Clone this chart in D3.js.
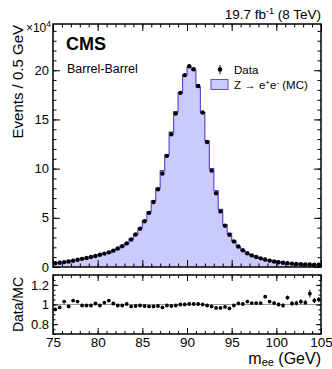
<!DOCTYPE html>
<html>
<head>
<meta charset="utf-8">
<script src="https://cdn.jsdelivr.net/npm/d3@7"></script>
<style>
  body { margin: 0; background: #fff; }
  text { font-family: "Liberation Sans", Arial, sans-serif; }
</style>
</head>
<body>
<div id="chart"></div>
<script>
// m_ee binning: 0.5 GeV bins from 75 to 105 GeV
const binStart = 75;
const binWidth = 0.5;

// events per bin, in units of 10^4
const dataEvents = [
    0.38, 0.43, 0.50, 0.56, 0.64, 0.73, 0.83, 0.92, 1.02, 1.12,
    1.24, 1.36, 1.49, 1.66, 1.88, 2.12, 2.40, 2.80, 3.30, 3.90,
    4.65, 5.50, 6.60, 7.90, 9.50, 11.3, 13.5, 15.6, 17.7, 19.5,
    20.4, 20.1, 18.4, 15.7, 12.7, 9.80, 7.50, 5.65, 4.20, 3.28,
    2.60, 2.08, 1.70, 1.40, 1.18, 1.01, 0.88, 0.76, 0.65, 0.56,
    0.49, 0.43, 0.38, 0.34, 0.31, 0.29, 0.27, 0.25, 0.24, 0.23
];
const mcEvents = [
    0.40, 0.44, 0.49, 0.57, 0.62, 0.71, 0.84, 0.93, 1.03, 1.11,
    1.25, 1.33, 1.43, 1.64, 1.90, 2.14, 2.39, 2.86, 3.35, 3.94,
    4.72, 5.61, 6.73, 8.02, 9.79, 11.4, 13.7, 15.8, 17.7, 19.5,
    20.3, 20.0, 18.3, 15.7, 12.8, 10.0, 7.77, 5.85, 4.31, 3.42,
    2.63, 2.06, 1.69, 1.36, 1.16, 1.00, 0.87, 0.70, 0.63, 0.55,
    0.49, 0.43, 0.36, 0.34, 0.31, 0.28, 0.27, 0.23, 0.23, 0.22
];
const ratio = [
    0.95, 0.97, 1.03, 0.98, 1.04, 1.03, 0.99, 0.99, 0.99, 1.01,
    0.99, 1.02, 1.04, 1.01, 0.99, 0.99, 1.005, 0.98, 0.985, 0.99,
    0.985, 0.98, 0.98, 0.985, 0.97, 0.99, 0.985, 0.99, 1.0, 1.0,
    1.005, 1.005, 1.005, 1.0, 0.99, 0.98, 0.965, 0.965, 0.975, 0.96,
    0.99, 1.01, 1.005, 1.03, 1.015, 1.015, 1.015, 1.08, 1.03, 1.015,
    1.0, 0.99, 1.07, 1.01, 1.015, 1.03, 1.02, 1.11, 1.04, 1.05
];
const ratioErr = [
    0.016, 0.015, 0.014, 0.013, 0.012, 0.011, 0.010, 0.010, 0.009, 0.009,
    0.008, 0.008, 0.008, 0.007, 0.007, 0.006, 0.006, 0.005, 0.005, 0.005,
    0.004, 0.004, 0.004, 0.003, 0.003, 0.003, 0.003, 0.003, 0.003, 0.003,
    0.003, 0.003, 0.003, 0.003, 0.003, 0.003, 0.004, 0.004, 0.005, 0.005,
    0.006, 0.007, 0.008, 0.009, 0.010, 0.011, 0.012, 0.014, 0.015, 0.016,
    0.018, 0.019, 0.020, 0.022, 0.023, 0.024, 0.025, 0.040, 0.026, 0.027
];

const xTicks = [75, 80, 85, 90, 95, 100, 105];
const yTicks = [0, 5, 10, 15, 20];
const ratioTicks = [0.8, 1, 1.2];

function main() {
    let W = 332, H = 369;
    let left = 53, right = 321;
    let mainTop = 24, mainBottom = 267;
    let ratioTop = 275, ratioBottom = 334;

    let fillColor = "#cbcbfb";
    let lineColor = "#5b4fd2";

    let svg = d3.select("#chart").append("svg")
        .attr("width", W)
        .attr("height", H);

    let x = d3.scaleLinear().domain([75, 105]).range([left, right]);
    let y = d3.scaleLinear().domain([0, 24.7]).range([mainBottom, mainTop]);
    let yr = d3.scaleLinear().domain([0.7, 1.3]).range([ratioBottom, ratioTop]);

    let bins = dataEvents.map(function(d, i) {
        let lo = binStart + i * binWidth;
        return {lo: lo, mid: lo + binWidth / 2, data: d, mc: mcEvents[i], r: ratio[i], re: ratioErr[i]};
    });
    let steps = bins.map(b => [b.lo, b.mc]);
    steps.push([105, bins[bins.length - 1].mc]);

    // MC histogram
    svg.append("path")
        .datum(steps)
        .attr("fill", fillColor)
        .attr("d", d3.area()
            .curve(d3.curveStepAfter)
            .x(d => x(d[0]))
            .y0(y(0))
            .y1(d => y(d[1])));
    svg.append("path")
        .datum(steps)
        .attr("fill", "none")
        .attr("stroke", lineColor)
        .attr("stroke-width", 1.2)
        .attr("d", d3.line()
            .curve(d3.curveStepAfter)
            .x(d => x(d[0]))
            .y(d => y(d[1])));

    // data points
    svg.append("g")
        .selectAll("circle")
        .data(bins)
        .enter()
        .append("circle")
        .attr("cx", d => x(d.mid))
        .attr("cy", d => y(d.data))
        .attr("r", 2.2)
        .attr("fill", "black");

    // ratio panel
    svg.append("line")
        .attr("x1", left).attr("x2", right)
        .attr("y1", yr(1)).attr("y2", yr(1))
        .attr("stroke", "#9a9a9a")
        .attr("stroke-width", 1.2);

    let rg = svg.append("g");
    rg.selectAll("line")
        .data(bins)
        .enter()
        .append("line")
        .attr("x1", d => x(d.mid)).attr("x2", d => x(d.mid))
        .attr("y1", d => yr(d.r - d.re)).attr("y2", d => yr(d.r + d.re))
        .attr("stroke", "black")
        .attr("stroke-width", 1);
    rg.selectAll("circle")
        .data(bins)
        .enter()
        .append("circle")
        .attr("cx", d => x(d.mid))
        .attr("cy", d => yr(d.r))
        .attr("r", 1.9)
        .attr("fill", "black");

    // axes with inward ticks
    function drawAxis(axis, translate, values, size, fmt, fontSize, pad) {
        let g = svg.append("g")
            .attr("transform", translate)
            .call(axis.tickValues(values).tickSize(size).tickPadding(pad || 4).tickFormat(fmt));
        g.select(".domain").remove();
        g.selectAll("line").attr("stroke", "black").attr("stroke-width", 1);
        g.selectAll("text")
            .attr("fill", "black")
            .style("font-family", "'Liberation Sans', Arial, sans-serif")
            .style("font-size", fontSize + "px");
        return g;
    }
    let none = () => "";
    let minorX = d3.range(75, 106, 1);
    let minorY = d3.range(0, 25, 1);
    let minorR = d3.range(14, 27, 1).map(v => v / 20);

    // main panel
    drawAxis(d3.axisLeft(y), "translate(" + left + ",0)", yTicks, -7, d3.format("d"), 13);
    drawAxis(d3.axisLeft(y), "translate(" + left + ",0)", minorY, -3.5, none, 1);
    drawAxis(d3.axisRight(y), "translate(" + right + ",0)", yTicks, -7, none, 1);
    drawAxis(d3.axisRight(y), "translate(" + right + ",0)", minorY, -3.5, none, 1);
    drawAxis(d3.axisBottom(x), "translate(0," + mainBottom + ")", xTicks, -7, none, 1);
    drawAxis(d3.axisBottom(x), "translate(0," + mainBottom + ")", minorX, -3.5, none, 1);
    drawAxis(d3.axisTop(x), "translate(0," + mainTop + ")", xTicks, -7, none, 1);
    drawAxis(d3.axisTop(x), "translate(0," + mainTop + ")", minorX, -3.5, none, 1);

    // ratio panel
    let rfmt = d => d === 1 ? "1" : d3.format(".1f")(d);
    drawAxis(d3.axisLeft(yr), "translate(" + left + ",0)", ratioTicks, -5, rfmt, 13);
    drawAxis(d3.axisLeft(yr), "translate(" + left + ",0)", minorR, -2.5, none, 1);
    drawAxis(d3.axisRight(yr), "translate(" + right + ",0)", ratioTicks, -5, none, 1);
    drawAxis(d3.axisRight(yr), "translate(" + right + ",0)", minorR, -2.5, none, 1);
    drawAxis(d3.axisBottom(x), "translate(0," + ratioBottom + ")", xTicks, -6, d3.format("d"), 13.5, 3);
    drawAxis(d3.axisBottom(x), "translate(0," + ratioBottom + ")", minorX, -3, none, 1);
    drawAxis(d3.axisTop(x), "translate(0," + ratioTop + ")", xTicks, -6, none, 1);
    drawAxis(d3.axisTop(x), "translate(0," + ratioTop + ")", minorX, -3, none, 1);

    // frames
    svg.append("rect")
        .attr("x", left).attr("y", mainTop)
        .attr("width", right - left).attr("height", mainBottom - mainTop)
        .attr("fill", "none").attr("stroke", "black").attr("stroke-width", 1.5);
    svg.append("rect")
        .attr("x", left).attr("y", ratioTop)
        .attr("width", right - left).attr("height", ratioBottom - ratioTop)
        .attr("fill", "none").attr("stroke", "black").attr("stroke-width", 1.5);

    // labels
    let lumi = svg.append("text")
        .attr("x", right).attr("y", 19)
        .attr("text-anchor", "end")
        .attr("font-size", 13.5)
        .text("19.7 fb");
    lumi.append("tspan").attr("dy", -5).attr("font-size", 9).text("-1");
    lumi.append("tspan").attr("dy", 5).text(" (8 TeV)");

    svg.append("text")
        .attr("x", 66).attr("y", 50)
        .attr("font-size", 18).attr("font-weight", "bold")
        .text("CMS");
    svg.append("text")
        .attr("x", 67).attr("y", 73)
        .attr("font-size", 12.5)
        .text("Barrel-Barrel");

    let exp = svg.append("text")
        .attr("x", 51).attr("y", 32)
        .attr("text-anchor", "end")
        .attr("font-size", 12)
        .text("\u00d710");
    exp.append("tspan").attr("dy", -5).attr("font-size", 8.5).text("4");

    svg.append("text")
        .attr("transform", "translate(23,25) rotate(-90)")
        .attr("text-anchor", "end")
        .attr("font-size", 15)
        .text("Events / 0.5 GeV");
    svg.append("text")
        .attr("transform", "translate(23," + yr(1) + ") rotate(-90)")
        .attr("text-anchor", "middle")
        .attr("font-size", 14)
        .text("Data/MC");

    let xt = svg.append("text")
        .attr("x", right).attr("y", 364)
        .attr("text-anchor", "end")
        .attr("font-size", 16)
        .text("m");
    xt.append("tspan").attr("dy", 2).attr("font-size", 11).text("ee");
    xt.append("tspan").attr("dy", -2).text(" (GeV)");

    // legend
    svg.append("line")
        .attr("x1", 220).attr("x2", 220).attr("y1", 65).attr("y2", 74)
        .attr("stroke", "black").attr("stroke-width", 1);
    svg.append("circle")
        .attr("cx", 220).attr("cy", 69.5).attr("r", 2.3)
        .attr("fill", "black");
    svg.append("text")
        .attr("x", 234).attr("y", 74)
        .attr("font-size", 11.5)
        .text("Data");
    svg.append("rect")
        .attr("x", 211).attr("y", 79.5).attr("width", 17).attr("height", 10)
        .attr("fill", fillColor).attr("stroke", lineColor).attr("stroke-width", 1);
    let zl = svg.append("text")
        .attr("x", 234).attr("y", 89)
        .attr("font-size", 11.5)
        .text("Z \u2192 e");
    zl.append("tspan").attr("dy", -4).attr("font-size", 8).text("+");
    zl.append("tspan").attr("dy", 4).text("e");
    zl.append("tspan").attr("dy", -4).attr("font-size", 8).text("-");
    zl.append("tspan").attr("dy", 4).text(" (MC)");
}

main();
</script>
</body>
</html>
